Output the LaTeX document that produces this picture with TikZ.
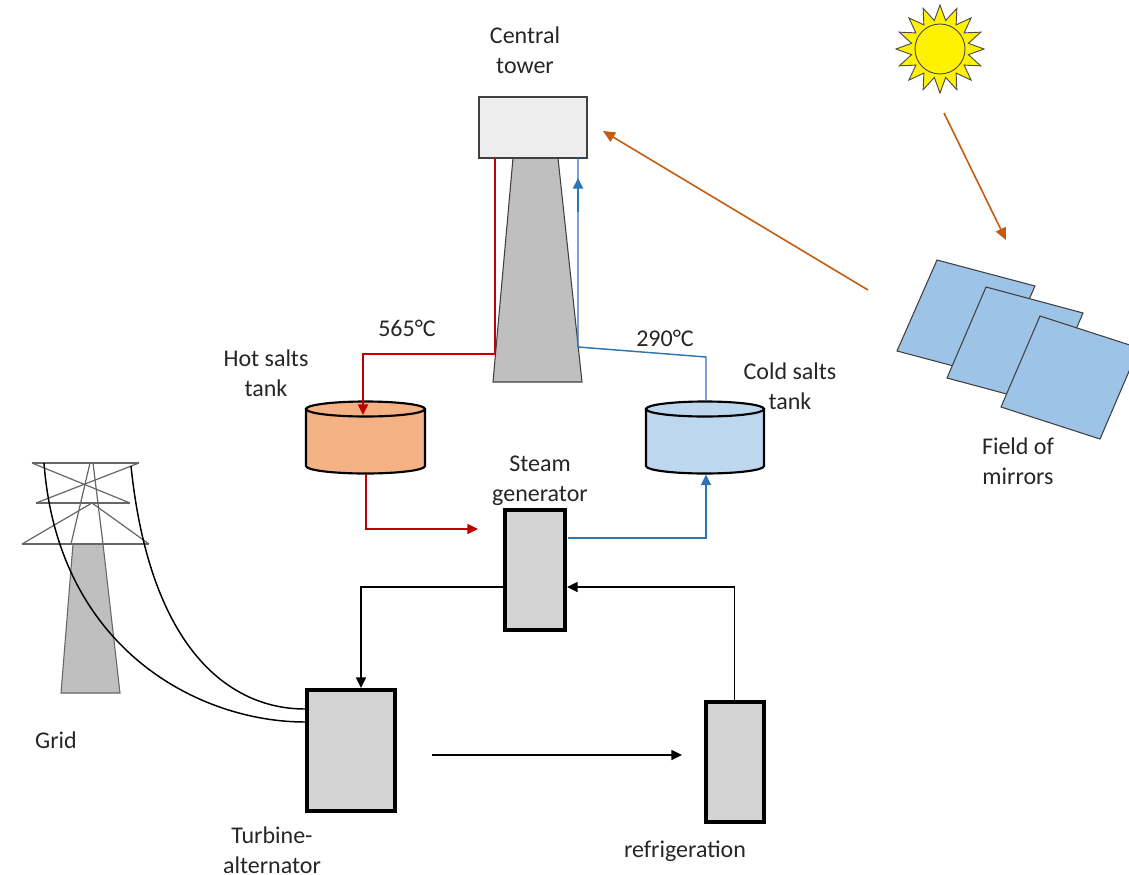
\documentclass[tikz,border=0pt]{standalone}
\usepackage{fontspec}
\setmainfont{Carlito}
\usetikzlibrary{arrows.meta,calc}

\definecolor{hotred}{HTML}{C00000}
\definecolor{coldblue}{HTML}{2E75B6}
\definecolor{raybrown}{HTML}{C55A11}
\definecolor{hotfill}{HTML}{F4B183}
\definecolor{coldfill}{HTML}{BDD7EE}
\definecolor{mirrorfill}{HTML}{9DC3E6}
\definecolor{towergray}{HTML}{BFBFBF}
\definecolor{headfill}{HTML}{EDEDED}
\definecolor{unitfill}{HTML}{D4D4D4}

\begin{document}
\begin{tikzpicture}[x=0.75pt,y=-0.75pt,
  lbl/.style={font=\fontsize{18}{22.5}\selectfont, align=center, text=black!85},
  unitbox/.style={draw=black, line width=3pt, fill=unitfill, inner sep=0pt},
  tankline/.style={draw=black, line width=1.6pt},
  hotpipe/.style={draw=hotred, line width=1.1pt},
  coldpipe/.style={draw=coldblue, line width=1.1pt},
  flow/.style={draw=black, line width=1.1pt},
  ray/.style={draw=raybrown, line width=1.2pt, -{Triangle[length=9pt,width=8pt]}},
  tip/.style={-{Triangle[length=8pt,width=7.5pt]}},
  pylon/.style={draw=black!60, line width=0.9pt},
  cable/.style={draw=black, line width=1.1pt},
  mirror/.style={draw=black!75, line width=0.8pt, fill=mirrorfill}]
\useasboundingbox (0,0) rectangle (1129,875);

% ---------- central receiver tower ----------
\draw[fill=towergray, draw=black!75, line width=0.8pt]
  (513,158) -- (558,158) -- (582,382) -- (493,382) -- cycle;
\node[draw=black!75, line width=0.8pt, fill=headfill, inner sep=0pt,
      minimum width={108*0.75pt}, minimum height={61*0.75pt}] (head) at (533,127.5) {};
\node[lbl] (lhead) at (525,50) {Central\\tower};

% ---------- salt tanks ----------
% hot tank
\coordinate (hottop) at (365.5,409);
\filldraw[tankline, fill=hotfill]
  (306,409) -- (306,466) arc[start angle=180, end angle=0, x radius=59.5, y radius=7.5]
  -- (425,409) -- cycle;
\filldraw[tankline, fill=hotfill] (hottop) ellipse [x radius=59.5, y radius=7.5];
\coordinate (hotbot) at (366,473.5);
\node[lbl] (lhot) at (266,373) {Hot salts\\tank};

% cold tank
\coordinate (coldtop) at (705,409);
\filldraw[tankline, fill=coldfill]
  (646,409) -- (646,466) arc[start angle=180, end angle=0, x radius=59, y radius=7.5]
  -- (764,409) -- cycle;
\filldraw[tankline, fill=coldfill] (coldtop) ellipse [x radius=59, y radius=7.5];
\coordinate (coldbot) at (706,474.5);
\node[lbl] (lcold) at (790,386) {Cold salts\\tank};

% ---------- steam cycle units ----------
\node[unitbox, minimum width={60*0.75pt}, minimum height={120*0.75pt}] (sg) at (534.5,569.5) {};
\node[lbl] (lsg) at (540,481) {Steam\\generator};
\node[unitbox, minimum width={88*0.75pt}, minimum height={121*0.75pt}] (turb) at (351,750.5) {};
\node[lbl] (lturb) at (272,850) {Turbine-\\alternator};
\node[unitbox, minimum width={58*0.75pt}, minimum height={120*0.75pt}] (refr) at (734.5,761.5) {};
\node[lbl] (lrefr) at (685,851) {refrigeration};

% ---------- molten salt loop ----------
\coordinate (hotout) at (495,158);
\coordinate (hotturn) at (363,354);
\draw[hotpipe, tip] (hotout) |- (hotturn) -- (363,415);
\node[lbl] (lhotT) at (407,328) {565°C};

\coordinate (sgfeed) at (478,529);
\draw[hotpipe, tip] (hotbot) |- (sgfeed);

\coordinate (sgout) at (568,538);
\draw[coldpipe, tip] (sgout) -| (coldbot);

\coordinate (coldup) at (706,401);
\coordinate (coldbend) at (706,357);
\coordinate (towerfoot) at (578,347);
\coordinate (coldin) at (578,158);
\draw[coldpipe] (coldup) -- (coldbend) -- (towerfoot) -- (coldin);
\draw[draw=coldblue, line width=2pt, tip] (578,212) -- (578,178);
\node[lbl] (lcoldT) at (665,338) {290°C};

% ---------- water / steam loop ----------
\coordinate (sgleft) at (503,587);
\coordinate (turbin) at (361,688);
\draw[flow, tip] (sgleft) -| (turbin);

\coordinate (turbout) at (432,755);
\coordinate (refrin) at (682,755);
\draw[flow, tip] (turbout) -- (refrin);

\coordinate (sgright) at (567,587);
\draw[flow, tip] (refr.north) |- (sgright);

% ---------- grid pylon ----------
\draw[fill=towergray, draw=black!60, line width=0.8pt]
  (73,544) -- (103,544) -- (120,693) -- (61,693) -- cycle;
\draw[pylon] (32,463) -- (139,463);
\draw[pylon] (36,503) -- (130,503);
\draw[pylon] (22,544) -- (149,544);
\draw[pylon] (32,463) -- (130,503);
\draw[pylon] (139,463) -- (36,503);
\draw[pylon] (22,544) -- (92,503) -- (149,544);
\draw[pylon] (90,463) -- (71,544);
\draw[pylon] (93,463) -- (103,544);
\coordinate (cableA) at (44,463);
\coordinate (cableB) at (131,466);
\coordinate (turbA) at (305,722);
\coordinate (turbB) at (305,709);
\draw[cable] (cableA) .. controls (58,650) and (200,722) .. (turbA);
\draw[cable] (cableB) .. controls (150,650) and (230,709) .. (turbB);
\node[lbl] (lgrid) at (56,740) {Grid};

% ---------- sun ----------
\coordinate (sun) at (940,49);
\draw[fill=yellow, draw=black!70, line width=0.7pt]
  ($(sun)+(90:44)$)
  \foreach \i [evaluate=\i as \r using {mod(\i,2)==0 ? 44 : 29}] in {1,...,31} {
    -- ($(sun)+({90+\i*11.25}:\r)$) } -- cycle;
\draw[fill=yellow, draw=black!70, line width=0.7pt] (sun) circle[radius=25];

% ---------- heliostat field ----------
\begin{scope}
\clip (0,0) rectangle (1129,875);
\draw[mirror] (937,260) -- (1035,286) -- (995,377) -- (897,351) -- cycle;
\draw[mirror] (986,287) -- (1083,313) -- (1044,404) -- (947,378) -- cycle;
\draw[mirror] (1040,316) -- (1139,348) -- (1100,439) -- (1001,407) -- cycle;
\end{scope}
\node[lbl] (lmirror) at (1018,461) {Field of\\mirrors};

% ---------- solar rays ----------
\coordinate (rayA) at (944,113);
\coordinate (rayB) at (1006,240);
\coordinate (rayC) at (868,290);
\coordinate (rayD) at (603,131);
\draw[ray] (rayA) -- (rayB);
\draw[ray] (rayC) -- (rayD);
\end{tikzpicture}
\end{document}
